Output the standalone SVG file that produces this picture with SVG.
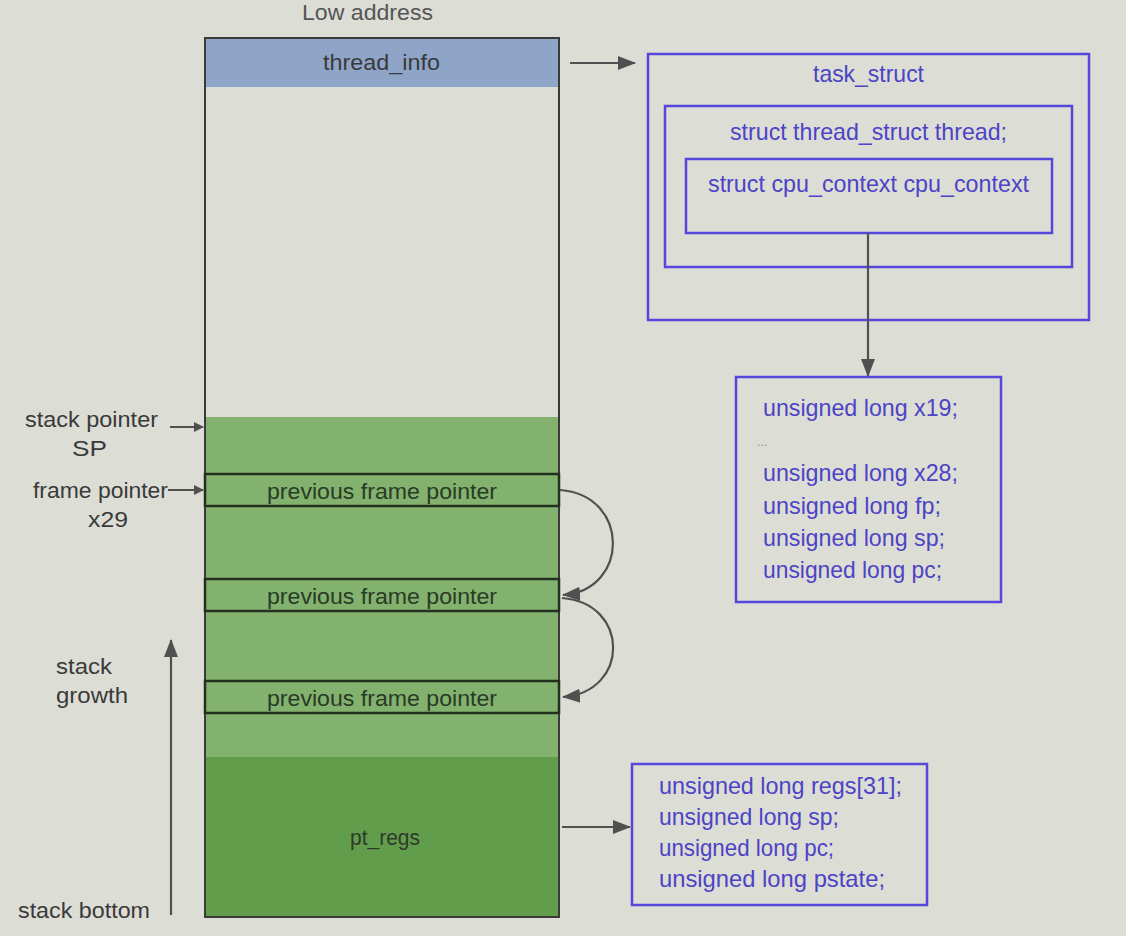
<svg xmlns="http://www.w3.org/2000/svg" width="1126" height="936" viewBox="0 0 1126 936">
<style>
text{font-family:"Liberation Sans",Arial,sans-serif;}
.g{fill:#3a3a3a;font-size:22px;}
.b{fill:#4c43c6;font-size:24px;}
.f{fill:#2a3a26;font-size:22px;}
.bx{fill:none;stroke:#5646dc;stroke-width:2.5;}
.fr{fill:none;stroke:#24301f;stroke-width:2.5;}
.c{fill:none;stroke:#505050;stroke-width:2.2;}
</style>
<defs>
<marker id="ah" markerWidth="10" markerHeight="10" refX="9" refY="5" orient="auto" markerUnits="userSpaceOnUse" viewBox="0 0 10 10">
<path d="M0,0 L10,5 L0,10 Z" fill="#505050"/>
</marker>
<marker id="ahs" markerWidth="18" markerHeight="16" refX="17" refY="8" orient="auto" markerUnits="userSpaceOnUse" viewBox="0 0 18 16">
<path d="M0,1 L18,8 L0,15 Z" fill="#505050"/>
</marker>
</defs>
<rect x="0" y="0" width="1126" height="936" fill="#dcddd5"/>
<text class="g" x="302" y="20" textLength="131" lengthAdjust="spacingAndGlyphs" style="fill:#555">Low address</text>

<g id="stack">
<rect x="205" y="38" width="354" height="879" fill="#dcddd5"/>
<rect x="205" y="38" width="354" height="49" fill="#8fa5c8"/>
<rect x="205" y="417" width="354" height="340" fill="#82b26e"/>
<rect x="205" y="757" width="354" height="160" fill="#629d4c"/>
<rect x="205" y="38" width="354" height="879" fill="none" stroke="#3a3a3a" stroke-width="2"/>
<text class="g" x="323" y="70" textLength="117" lengthAdjust="spacingAndGlyphs">thread_info</text>
<text class="g" x="350" y="845" textLength="70" lengthAdjust="spacingAndGlyphs" style="fill:#2f3a2b">pt_regs</text>
</g>

<g id="frame1">
<rect class="fr" x="205" y="474" width="354" height="32"/>
<text class="f" x="267" y="499" textLength="230" lengthAdjust="spacingAndGlyphs">previous frame pointer</text>
</g>
<g id="frame2">
<rect class="fr" x="205" y="579" width="354" height="32"/>
<text class="f" x="267" y="604" textLength="230" lengthAdjust="spacingAndGlyphs">previous frame pointer</text>
</g>
<g id="frame3">
<rect class="fr" x="205" y="681" width="354" height="32"/>
<text class="f" x="267" y="706" textLength="230" lengthAdjust="spacingAndGlyphs">previous frame pointer</text>
</g>

<g id="labels">
<text class="g" x="25" y="427" textLength="133" lengthAdjust="spacingAndGlyphs">stack pointer</text>
<text class="g" x="72" y="456" textLength="35" lengthAdjust="spacingAndGlyphs">SP</text>
<text class="g" x="33" y="498" textLength="135" lengthAdjust="spacingAndGlyphs">frame pointer</text>
<text class="g" x="88" y="527" textLength="40" lengthAdjust="spacingAndGlyphs">x29</text>
<text class="g" x="56" y="674" textLength="56" lengthAdjust="spacingAndGlyphs">stack</text>
<text class="g" x="56" y="703" textLength="72" lengthAdjust="spacingAndGlyphs">growth</text>
<text class="g" x="18" y="918" textLength="132" lengthAdjust="spacingAndGlyphs">stack bottom</text>
</g>

<g id="task_struct">
<rect class="bx" x="648" y="54" width="441" height="266"/>
<text class="b" x="813" y="82" textLength="111" lengthAdjust="spacingAndGlyphs">task_struct</text>
</g>
<g id="thread_struct">
<rect class="bx" x="665" y="106" width="407" height="161"/>
<text class="b" x="730" y="140" textLength="277" lengthAdjust="spacingAndGlyphs">struct thread_struct thread;</text>
</g>
<g id="cpu_context">
<rect class="bx" x="686" y="159" width="366" height="74"/>
<text class="b" x="708" y="192" textLength="321" lengthAdjust="spacingAndGlyphs">struct cpu_context cpu_context</text>
</g>

<g id="cpu_regs">
<rect class="bx" x="736" y="377" width="265" height="225"/>
<text class="b" x="763" y="416" textLength="195" lengthAdjust="spacingAndGlyphs">unsigned long x19;</text>
<text x="757" y="446" style="fill:#8a8a8a;font-size:12px">...</text>
<text class="b" x="763" y="481" textLength="195" lengthAdjust="spacingAndGlyphs">unsigned long x28;</text>
<text class="b" x="763" y="514" textLength="178" lengthAdjust="spacingAndGlyphs">unsigned long fp;</text>
<text class="b" x="763" y="546" textLength="182" lengthAdjust="spacingAndGlyphs">unsigned long sp;</text>
<text class="b" x="763" y="578" textLength="179" lengthAdjust="spacingAndGlyphs">unsigned long pc;</text>
</g>

<g id="pt_regs_fields">
<rect class="bx" x="632" y="764" width="295" height="141"/>
<text class="b" x="659" y="794" textLength="243" lengthAdjust="spacingAndGlyphs">unsigned long regs[31];</text>
<text class="b" x="659" y="825" textLength="180" lengthAdjust="spacingAndGlyphs">unsigned long sp;</text>
<text class="b" x="659" y="856" textLength="175" lengthAdjust="spacingAndGlyphs">unsigned long pc;</text>
<text class="b" x="659" y="887" textLength="226" lengthAdjust="spacingAndGlyphs">unsigned long pstate;</text>
</g>

<g id="connectors">
<line class="c" x1="570" y1="63" x2="635" y2="63" marker-end="url(#ahs)"/>
<line class="c" x1="868" y1="233" x2="868" y2="376" marker-end="url(#ahs)"/>
<line class="c" x1="562" y1="827" x2="630" y2="827" marker-end="url(#ahs)"/>
<line class="c" x1="170" y1="427" x2="203" y2="427" marker-end="url(#ah)"/>
<line class="c" x1="168" y1="490" x2="203" y2="490" marker-end="url(#ah)"/>
<line class="c" x1="171" y1="915" x2="171" y2="640" marker-end="url(#ahs)"/>
<path class="c" d="M560,490 C630,495 630,590 563,595" marker-end="url(#ahs)"/>
<path class="c" d="M562,598 C630,603 630,692 563,697" marker-end="url(#ahs)"/>
</g>
</svg>
